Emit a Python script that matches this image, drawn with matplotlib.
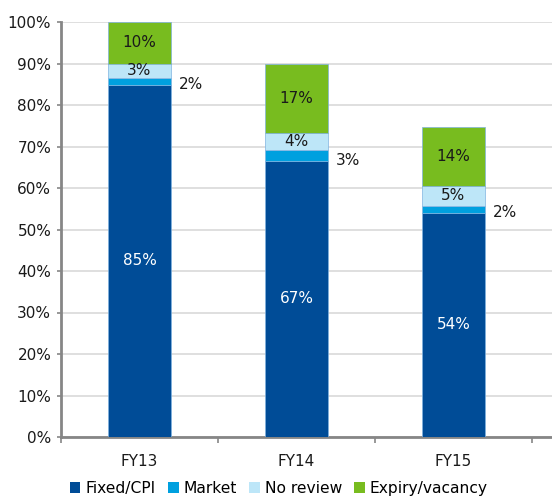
import numpy as np
import matplotlib
matplotlib.use("Agg")
import matplotlib.pyplot as plt
from matplotlib.patches import Patch

# values (% of total)
years = ["FY13", "FY14", "FY15"]
fixed_cpi = [84.9, 66.6, 54.0]
market = [1.7, 2.6, 1.7]
no_review = [3.4, 4.1, 4.9]
expiry = [10.0, 16.7, 14.0]

series_names = ["Fixed/CPI", "Market", "No review", "Expiry/vacancy"]
colors = ["#004C97", "#00A0DF", "#BDE6F8", "#78BC1F"]

plt.rcParams['font.family'] = ['DejaVu Sans']

fig = plt.figure(figsize=(5.52, 5.04), dpi=100)
ax = fig.add_axes([61 / 552, 1 - 437 / 504, 1 - 61 / 552, (437 - 22) / 504])

x = np.arange(len(years))
width = 0.4
series = [fixed_cpi, market, no_review, expiry]
bottom = np.zeros(len(years))
for vals, col in zip(series, colors):
    ax.bar(x, vals, width, bottom=bottom, color=col, edgecolor="#7FB3E0",
           linewidth=0.5, zorder=3)
    bottom += np.array(vals)

# segment labels
for i in range(len(years)):
    f, m, n, e = fixed_cpi[i], market[i], no_review[i], expiry[i]
    ax.text(x[i], f / 2, f"{round(f)}%", ha="center", va="center",
            color="white", fontsize=11, zorder=4)
    ax.text(x[i] + width / 2 + 0.05, f, f"{round(m)}%", ha="left", va="center",
            color="#1A1A1A", fontsize=11, zorder=4)
    ax.text(x[i], f + m + n / 2, f"{round(n)}%", ha="center", va="center",
            color="#1A1A1A", fontsize=11, zorder=4)
    ax.text(x[i], f + m + n + e / 2, f"{round(e)}%", ha="center", va="center",
            color="#1A1A1A", fontsize=11, zorder=4)

ax.set_ylim(0, 100)
ax.set_xlim(-0.5, 2.5 + 20 / 157)
ax.set_yticks(np.arange(0, 101, 10))
ax.set_yticklabels([f"{v}%" for v in range(0, 101, 10)], fontsize=11, color="#1A1A1A")
ax.yaxis.grid(True, color="#D9D9D9", linewidth=1.2, zorder=0)
ax.set_axisbelow(True)

ax.set_xticks(x)
ax.set_xticklabels(years, fontsize=11, color="#1A1A1A")
ax.set_xticks([-0.5, 0.5, 1.5, 2.5], minor=True)
ax.tick_params(axis="x", which="major", length=0, pad=12)
ax.tick_params(axis="x", which="minor", length=4, width=1.2, color="#868686", direction="out")
ax.tick_params(axis="y", length=3, width=1.2, color="#868686", pad=4)

for s in ["top", "right"]:
    ax.spines[s].set_visible(False)
for s in ["left", "bottom"]:
    ax.spines[s].set_color("#868686")
    ax.spines[s].set_linewidth(2)

handles = [Patch(facecolor=c, edgecolor="none") for c in colors]
fig.legend(handles, series_names, loc="lower center", bbox_to_anchor=(0.505, -0.012),
           ncol=4, frameon=False, fontsize=11.2, handlelength=0.7, handleheight=0.7,
           handletextpad=0.3, columnspacing=0.8)

fig.savefig("out.png", dpi=100)
